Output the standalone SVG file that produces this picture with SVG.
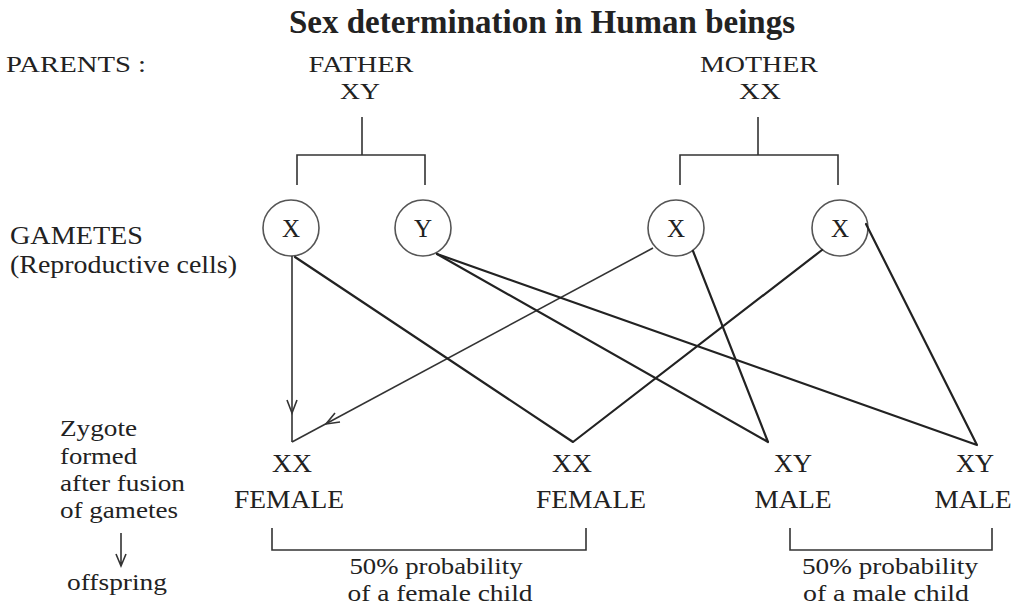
<svg xmlns="http://www.w3.org/2000/svg" width="1016" height="606" viewBox="0 0 1016 606">
<style>
text{font-family:"Liberation Serif","Times New Roman",serif;font-size:25px;fill:#222}
.c{text-anchor:middle}
.s{font-size:24px}
.t{font-weight:bold;font-size:33px}
.ln{stroke:#222;stroke-width:2.2;fill:none;stroke-linecap:round;stroke-linejoin:round}
.th{stroke:#333;stroke-width:1.6;fill:none}
.cir{stroke:#555;stroke-width:1.6;fill:#fff}
</style>
<rect width="1016" height="606" fill="#fff"/>
<g id="title"><text class="c t" x="542" y="33" textLength="506" lengthAdjust="spacingAndGlyphs">Sex determination in Human beings</text></g>
<g id="labels-left">
<text x="6" y="72" class="s" textLength="140" lengthAdjust="spacingAndGlyphs">PARENTS :</text>
<text x="10" y="244" textLength="133" lengthAdjust="spacingAndGlyphs">GAMETES</text>
<text x="10" y="273" textLength="227" lengthAdjust="spacingAndGlyphs">(Reproductive cells)</text>
<text x="60" y="436" class="s" textLength="77" lengthAdjust="spacingAndGlyphs">Zygote</text>
<text x="60" y="464" class="s" textLength="77" lengthAdjust="spacingAndGlyphs">formed</text>
<text x="60" y="491" class="s" textLength="125" lengthAdjust="spacingAndGlyphs">after fusion</text>
<text x="60" y="518" class="s" textLength="118" lengthAdjust="spacingAndGlyphs">of gametes</text>
<path class="th" d="M121 533V565M116 554L121 566L126 554"/>
<text x="67" y="590" class="s" textLength="100" lengthAdjust="spacingAndGlyphs">offspring</text>
</g>
<g id="father"><text class="c s" x="361" y="72" textLength="105" lengthAdjust="spacingAndGlyphs">FATHER</text><text class="c s" x="360" y="99" textLength="40" lengthAdjust="spacingAndGlyphs">XY</text></g>
<g id="mother"><text class="c s" x="759" y="72" textLength="118" lengthAdjust="spacingAndGlyphs">MOTHER</text><text class="c s" x="760" y="99" textLength="42" lengthAdjust="spacingAndGlyphs">XX</text></g>
<g id="gamete-father-x"><ellipse class="cir" cx="291" cy="228" rx="28" ry="28"/><text class="c" x="291" y="237">X</text></g>
<g id="gamete-father-y"><ellipse class="cir" cx="423" cy="228" rx="28" ry="28"/><text class="c" x="423" y="237">Y</text></g>
<g id="gamete-mother-x1"><ellipse class="cir" cx="676" cy="228" rx="28" ry="28"/><text class="c" x="676" y="237">X</text></g>
<g id="gamete-mother-x2"><ellipse class="cir" cx="840" cy="228" rx="28" ry="28"/><text class="c" x="840" y="237">X</text></g>
<g id="zygote-1"><text class="c" x="292" y="472" textLength="40" lengthAdjust="spacingAndGlyphs">XX</text><text class="c" x="289" y="508" textLength="110" lengthAdjust="spacingAndGlyphs">FEMALE</text></g>
<g id="zygote-2"><text class="c" x="572" y="472" textLength="40" lengthAdjust="spacingAndGlyphs">XX</text><text class="c" x="591" y="508" textLength="110" lengthAdjust="spacingAndGlyphs">FEMALE</text></g>
<g id="zygote-3"><text class="c" x="793" y="472" textLength="38" lengthAdjust="spacingAndGlyphs">XY</text><text class="c" x="793" y="508" textLength="77" lengthAdjust="spacingAndGlyphs">MALE</text></g>
<g id="zygote-4"><text class="c" x="975" y="472" textLength="38" lengthAdjust="spacingAndGlyphs">XY</text><text class="c" x="973" y="508" textLength="77" lengthAdjust="spacingAndGlyphs">MALE</text></g>
<g id="female-prob"><text class="c s" x="436" y="574" textLength="173" lengthAdjust="spacingAndGlyphs">50% probability</text><text class="c s" x="440" y="601" textLength="185" lengthAdjust="spacingAndGlyphs">of a female child</text></g>
<g id="male-prob"><text class="c s" x="890" y="574" textLength="176" lengthAdjust="spacingAndGlyphs">50% probability</text><text class="c s" x="886" y="601" textLength="166" lengthAdjust="spacingAndGlyphs">of a male child</text></g>
<g id="connectors">
<path class="th" d="M362 117V155M297 185V155H425V185"/>
<path class="th" d="M758 117V155M680 185V155H838V185"/>
<path class="th" d="M272 528V550H586V528"/>
<path class="th" d="M790 528V550H992V528"/>
<path class="th" d="M292 256V442"/>
<path class="th" d="M287 400L292 413L297 400"/>
<path class="th" d="M653 248L292 442"/>
<path class="th" d="M335 413L326 424L340 422"/>
<path class="ln" d="M295 257L573 442L822 250"/>
<path class="ln" d="M437 254L768 442L693 251"/>
<path class="ln" d="M437 254L977 445L866 224"/>
</g>
</svg>
